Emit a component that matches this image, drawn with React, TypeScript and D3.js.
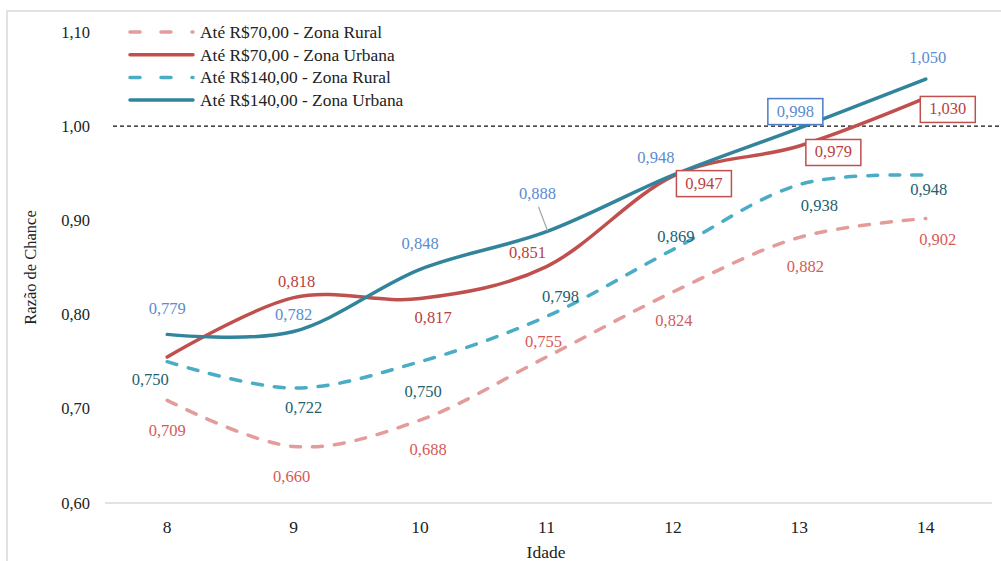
import React from 'react';
import * as d3 from 'd3';

const idades = ['8', '9', '10', '11', '12', '13', '14'];
const rural70 = [0.709, 0.66, 0.688, 0.755, 0.824, 0.882, 0.902];
const urbana70 = [0.755, 0.818, 0.817, 0.851, 0.947, 0.979, 1.03];
const rural140 = [0.75, 0.722, 0.75, 0.798, 0.869, 0.938, 0.948];
const urbana140 = [0.779, 0.782, 0.848, 0.888, 0.948, 0.998, 1.05];
const yTicks = [0.6, 0.7, 0.8, 0.9, 1.0, 1.1];
const seriesNames = [
  'Até R$70,00 - Zona Rural',
  'Até R$70,00 - Zona Urbana',
  'Até R$140,00 - Zona Rural',
  'Até R$140,00 - Zona Urbana',
];

// label offsets (px) relative to the point, null = no label
const labelOffsets: ([number, number] | null)[][] = [
  [[0, 30], [-2, 30], [8, 29], [-3, -15], [1, 29], [6, 29], [12, 21]],
  [null, [3, -16], [13, 19], [-19, -14], [31, 7], [34, 6], [22, 11]],
  [[-17, 18], [10, 19], [3, 30], [14, -20], [3, -13], [20, 21], [3, 14]],
  [[0, -26], [0, -17], [0, -26], [-9, -38], [-17, -18], [-4, -17], [2, -22]],
];
const boxedLabels = [[], [4, 5, 6], [], [5]];

const lineColors = ['#E39C9A', '#C0504D', '#4BACC6', '#31849B'];
const labelColors = ['#D65A58', '#B8413E', '#245F6E', '#5B8BD0'];
const boxColors = ['#C0504D', '#C0504D', '#31849B', '#4A7CC8'];
const dashed = [true, false, true, false];

const font = "'Liberation Serif', 'DejaVu Serif', serif";

export default function App() {
  const width = 1001;
  const height = 561;
  const series = [rural70, urbana70, rural140, urbana140];

  const x = d3.scaleBand().domain(idades).range([104, 989]).padding(0);
  const cx = (d: string) => (x(d) as number) + x.bandwidth() / 2;
  const y = d3.scaleLinear().domain([0.6, 1.1]).range([503, 32]);

  const line = d3
    .line<number>()
    .x((_, i) => cx(idades[i]))
    .y((v) => y(v))
    .curve(d3.curveCardinal.tension(0));

  const fmt = (v: number) => v.toFixed(3).replace('.', ',');

  return (
    <svg
      width={width}
      height={height}
      style={{ position: 'absolute', left: 0, top: 0, background: '#fff', fontFamily: font }}
    >
      <rect x={7} y={11} width={1000} height={560} fill="#fff" stroke="#D9D9D9" strokeWidth={1.5} />

      {/* y ticks */}
      {yTicks.map((t) => (
        <text key={t} x={90} y={y(t) + 5.5} textAnchor="end" fontSize={16.5} fill="#222">
          {t.toFixed(2).replace('.', ',')}
        </text>
      ))}

      {/* reference line at 1,00 */}
      <line x1={113} x2={1001} y1={y(1)} y2={y(1)} stroke="#111" strokeWidth={1.2} strokeDasharray="4 3" />

      {/* x axis */}
      <line x1={105} x2={992} y1={y(0.6)} y2={y(0.6)} stroke="#D9D9D9" strokeWidth={1.5} />
      {idades.map((d) => (
        <text key={d} x={cx(d)} y={533} textAnchor="middle" fontSize={17.5} fill="#222">
          {d}
        </text>
      ))}
      <text x={546} y={558} textAnchor="middle" fontSize={17.5} fill="#222">
        Idade
      </text>
      <text
        transform={`translate(36, ${(y(0.6) + y(1.1)) / 2}) rotate(-90)`}
        textAnchor="middle"
        fontSize={16.5}
        fill="#222"
      >
        Razão de Chance
      </text>

      {/* lines */}
      {series.map((s, k) => (
        <path
          key={k}
          d={line(s) as string}
          fill="none"
          stroke={lineColors[k]}
          strokeWidth={3.5}
          strokeLinecap="round"
          strokeDasharray={dashed[k] ? '10 12' : undefined}
        />
      ))}

      {/* leader line for 0,888 */}
      <line
        x1={cx('11') - 8}
        y1={y(0.888) - 25}
        x2={cx('11') + 1}
        y2={y(0.888) - 1}
        stroke="#A6A6A6"
        strokeWidth={1.2}
      />

      {/* data labels */}
      {series.map((s, k) =>
        s.map((v, i) => {
          const off = labelOffsets[k][i];
          if (!off) return null;
          const lx = cx(idades[i]) + off[0];
          const ly = y(v) + off[1];
          const boxed = (boxedLabels[k] as number[]).includes(i);
          return (
            <g key={`${k}-${i}`}>
              {boxed && (
                <rect
                  x={lx - 27.5}
                  y={ly - 12.5}
                  width={55}
                  height={26}
                  fill="#fff"
                  stroke={boxColors[k]}
                  strokeWidth={1.5}
                />
              )}
              <text x={lx} y={ly + 5.5} textAnchor="middle" fontSize={16.5} fill={labelColors[k]}>
                {fmt(v)}
              </text>
            </g>
          );
        })
      )}

      {/* legend */}
      {seriesNames.map((name, k) => {
        const ly = 32 + k * 22.7;
        return (
          <g key={name}>
            <line
              x1={130}
              x2={193}
              y1={ly}
              y2={ly}
              stroke={lineColors[k]}
              strokeWidth={3.5}
              strokeLinecap="round"
              strokeDasharray={dashed[k] ? '10 21' : undefined}
            />
            <text x={200} y={ly + 6} fontSize={17.4} fill="#222">
              {name}
            </text>
          </g>
        );
      })}
    </svg>
  );
}
